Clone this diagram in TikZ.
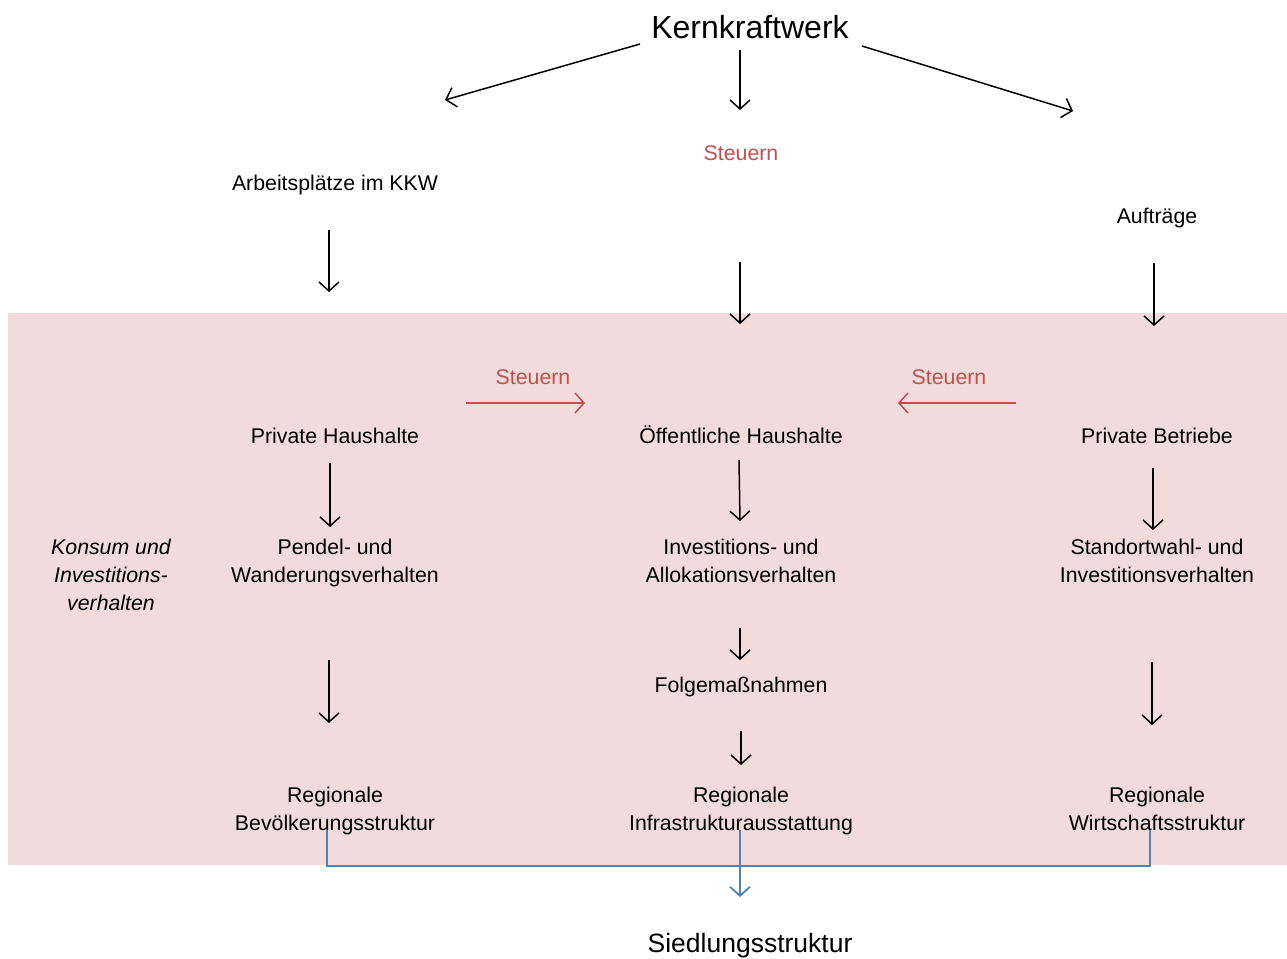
\documentclass[tikz,border=0pt]{standalone}
\usepackage{fontspec}
\setmainfont{Liberation Sans}
\usetikzlibrary{arrows.meta}
\definecolor{panel}{HTML}{F2DCDB}
\definecolor{taxred}{HTML}{C0504D}
\definecolor{flowblue}{HTML}{4F81BD}
% line strut: keeps every text line the same height and depth
\newcommand\ls{\rule[-4pt]{0pt}{23pt}}
\begin{document}
\begin{tikzpicture}[x=1pt,y=-1pt,
  txt/.style={inner sep=0pt,align=center,font=\fontsize{21.3}{28}\selectfont},
  big/.style={inner sep=0pt,font=\fontsize{32}{36}\selectfont},
  bottom/.style={inner sep=0pt,font=\fontsize{26.5}{30}\selectfont},
  tax/.style={txt,text=taxred},
  arr/.style={line width=1.5pt,-{Straight Barb[length=9pt,width=20pt,line width=1.5pt]}},
  taxarr/.style={arr,draw=taxred},
  flow/.style={line width=1.8pt,draw=flowblue},
  flowarr/.style={flow,-{Straight Barb[length=9pt,width=20pt,line width=1.8pt]}}]
\useasboundingbox (0,0) rectangle (1287,958);
% shaded regional level
\fill[panel] (8,313) rectangle (1287,865);

% top level
\node[big] (kkw) at (750,27) {Kernkraftwerk};
\node[txt] (arb) at (335,183) {\ls Arbeitsplätze im KKW};
\node[tax] (st1) at (741,153) {\ls Steuern};
\node[txt] (auf) at (1157,216) {\ls Aufträge};

% actors
\node[txt] (ph) at (335,436) {\ls Private Haushalte};
\node[txt] (oh) at (741,436) {\ls Öffentliche Haushalte};
\node[txt] (pb) at (1157,436) {\ls Private Betriebe};
\node[tax] (st2) at (533,377) {\ls Steuern};
\node[tax] (st3) at (949,377) {\ls Steuern};

% behaviour
\node[txt,font=\fontsize{21.3}{28}\selectfont\itshape] (kiv) at (111,575) {\ls Konsum und\\\ls Investitions-\\\ls verhalten};
\node[txt] (pw) at (335,561) {\ls Pendel- und\\\ls Wanderungsverhalten};
\node[txt] (ia) at (741,561) {\ls Investitions- und\\\ls Allokationsverhalten};
\node[txt] (si) at (1157,561) {\ls Standortwahl- und\\\ls Investitionsverhalten};
\node[txt] (fm) at (741,685) {\ls Folgemaßnahmen};

% regional structures
\node[txt] (rb) at (335,809) {\ls Regionale\\\ls Bevölkerungsstruktur};
\node[txt] (ri) at (741,809) {\ls Regionale\\\ls Infrastrukturausstattung};
\node[txt] (rw) at (1157,809) {\ls Regionale\\\ls Wirtschaftsstruktur};
\node[bottom] (sied) at (750,946) {Siedlungsstruktur};

% arrows from the plant
\draw[arr] ([shift={(-110,17)}]kkw.center) -- ([shift={(110,-83)}]arb.center);
\draw[arr] ([shift={(-10,23)}]kkw.center) -- ([shift={(-1,-43)}]st1.center);
\draw[arr] ([shift={(112,19)}]kkw.center) -- ([shift={(-84,-105)}]auf.center);

% down to the actors
\draw[arr] ([shift={(-6,47)}]arb.center) -- ([shift={(-6,-144)}]ph.center);
\draw[arr] ([shift={(-1,109)}]st1.center) -- ([shift={(-1,-112)}]oh.center);
\draw[arr] ([shift={(-3,47)}]auf.center) -- ([shift={(-3,-110)}]pb.center);

% tax flows
\draw[taxarr] ([shift={(131,-33)}]ph.center) -- ([shift={(-156,-33)}]oh.center);
\draw[taxarr] ([shift={(-141,-33)}]pb.center) -- ([shift={(157,-33)}]oh.center);

% actors to behaviour
\draw[arr] ([shift={(-5,27)}]ph.center) -- ([shift={(-5,-34)}]pw.center);
\draw[arr] ([shift={(-2,24)}]oh.center) -- ([shift={(-1,-40)}]ia.center);
\draw[arr] ([shift={(-4,32)}]pb.center) -- ([shift={(-4,-31)}]si.center);

% behaviour to structures
\draw[arr] ([shift={(-6,99)}]pw.center) -- ([shift={(-6,-86)}]rb.center);
\draw[arr] ([shift={(-1,67)}]ia.center) -- ([shift={(-1,-25)}]fm.center);
\draw[arr] ([shift={(0,46)}]fm.center) -- ([shift={(0,-44)}]ri.center);
\draw[arr] ([shift={(-5,101)}]si.center) -- ([shift={(-5,-84)}]rw.center);

% merge into the settlement structure
\draw[flow] ([shift={(-8,21)}]rb.center) |- ([shift={(-7,57)}]rw.center) -- ([shift={(-7,21)}]rw.center);
\draw[flowarr] ([shift={(-1,21)}]ri.center) -- ([shift={(-10,-49)}]sied.center);
\end{tikzpicture}
\end{document}
